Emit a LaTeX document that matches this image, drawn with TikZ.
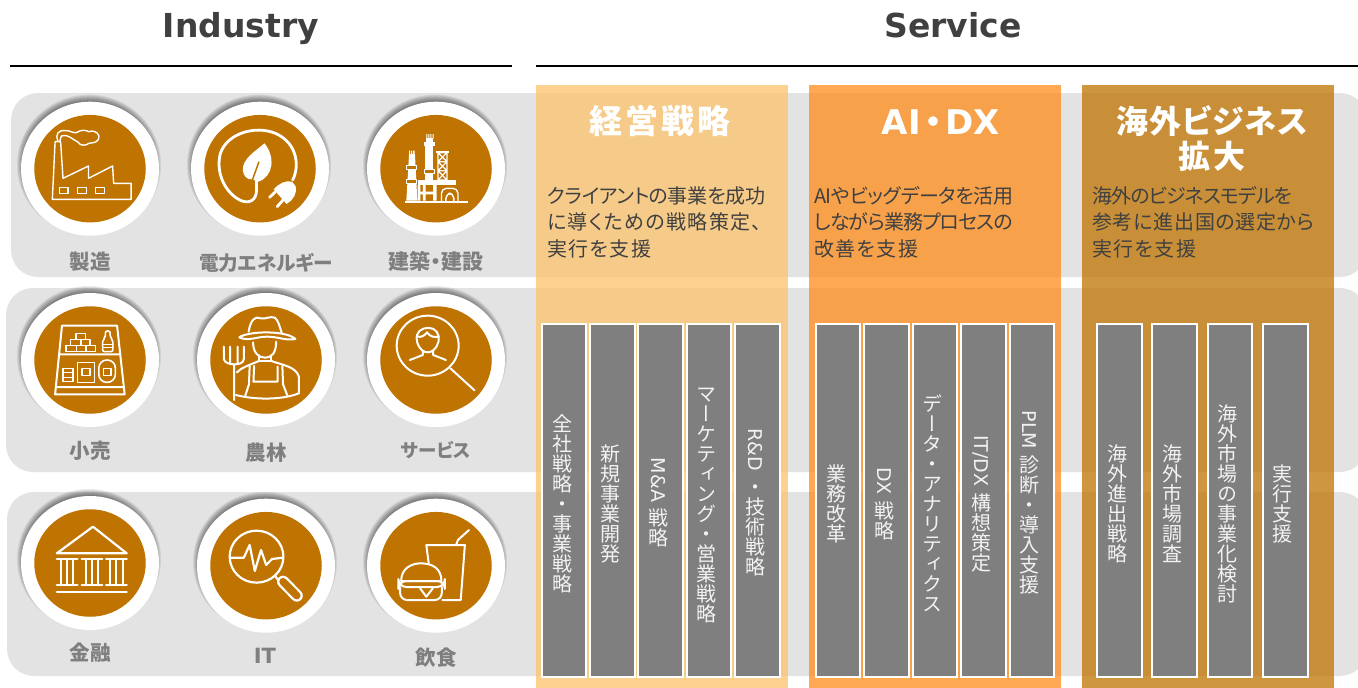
\documentclass[tikz,border=0pt]{standalone}
\usepackage{fontspec}
\usepackage{graphicx}
\usetikzlibrary{shapes.geometric}
\setmainfont{DejaVu Sans}
\newfontfamily\cjk[RawFeature={+palt}]{Noto Sans CJK JP}
\newfontfamily\cjkv[RawFeature={+vert}]{Noto Sans CJK JP}
\definecolor{ochre}{HTML}{BF7300}
\definecolor{bandgrey}{HTML}{E3E3E3}
\definecolor{barg}{HTML}{7F7F7F}
\definecolor{pa}{HTML}{FDC36C}
\definecolor{pb}{HTML}{FF8C18}
\definecolor{pc}{HTML}{BF7300}
\definecolor{darktx}{HTML}{404040}
\makeatletter
\newcommand\VCH[1]{\vbox to 20pt{\kern17.6pt\hbox to 20pt{\hss\smash{\cjkv\fontsize{20pt}{20pt}\selectfont #1}\hss}\vss}}
\newcommand\VT[1]{\@tfor\vch:=#1\do{\VCH{\vch}}}
\newcommand\VL[1]{\hbox to 20pt{\hss\rotatebox[origin=c]{-90}{\fontsize{19pt}{19pt}\selectfont #1}\hss}\kern6pt\relax}
\newcommand\VBOX[1]{\vbox{\offinterlineskip #1}}
\newcommand\LS[1]{\addfontfeature{LetterSpace=#1}}
\makeatother
\tikzset{
  band/.style={fill=bandgrey,draw=none,rounded corners=27pt},
  panel/.style={draw=none,opacity=.75},
  barbox/.style={rectangle,draw=white,line width=2pt,fill=barg,minimum width=44.5pt,minimum height=353pt,inner sep=0pt},
  bartext/.style={text=white!95!black,inner sep=0pt},
  whitedisc/.style={ellipse,fill=white,minimum width=138pt,minimum height=134pt,inner sep=0pt},
  ochredisc/.style={ellipse,fill=ochre,minimum width=111.5pt,minimum height=107.5pt,inner sep=0pt},
  lab/.style={text=barg,font=\cjk\bfseries\fontsize{20.5pt}{22pt}\selectfont,inner sep=0pt},
  head/.style={text=darktx,font=\bfseries\fontsize{33pt}{36pt}\selectfont,inner sep=0pt,anchor=base},
  ptitle/.style={text=white,font=\cjk\bfseries\fontsize{32pt}{34pt}\selectfont,inner sep=0pt},
  pbody/.style={text=darktx,font=\cjk\fontsize{20pt}{22pt}\selectfont,inner sep=0pt,anchor=west},
  ic/.style={draw=white,line width=2pt,line join=round,line cap=round},
  headrule/.style={draw=black,line width=2pt},
}
\newcommand\Bub[3]{%
  \foreach \r in {-4,...,3}{\fill[black,opacity=.08] (#2-1,#3-4) circle [x radius=69pt+\r pt,y radius=67pt+\r pt];}
  \node[whitedisc] (w#1) at (#2,#3) {};
  \node[ochredisc] (o#1) at (#2,#3) {};
}
\begin{document}
\begin{tikzpicture}[x=1pt,y=-1pt]
\useasboundingbox (0,0) rectangle (1358,688);
\clip (0,0) rectangle (1358,688);
% bands
\fill[band] (11,93) rectangle (1367,277);
\fill[band] (6,288) rectangle (1367,472);
\fill[band] (7,492) rectangle (1367,676);
% headers
\node[head] (hi) at (241,37) {Industry};
\node[head] (hs) at (953,37) {Service};
\draw[headrule] (10,65.5) -- (512,65.5);
\draw[headrule] (536,65.5) -- (1358,65.5);
% circles
\Bub{a}{90}{168.7}\Bub{b}{260}{168.7}\Bub{c}{436}{168.7}
\Bub{d}{90}{360}\Bub{e}{266}{360}\Bub{f}{436}{360}
\Bub{g}{90}{563}\Bub{h}{266}{565.7}\Bub{i}{436}{565.7}
% labels
\node[lab] (l1) at (90,262) {製造};
\node[lab,font=\cjk\bfseries\fontsize{19.6pt}{22pt}\selectfont] (l2) at (266,263) {電力エネルギー};
\node[lab,font=\cjk\bfseries\fontsize{21pt}{22pt}\selectfont] (l3) at (436,261) {建築・建設};
\node[lab] (l4) at (90,451) {小売};
\node[lab] (l5) at (266,453) {農林};
\node[lab,font=\cjk\bfseries\fontsize{18.5pt}{22pt}\selectfont] (l6) at (436,450) {サービス};
\node[lab] (l7) at (90,653) {金融};
\node[lab,font=\bfseries\fontsize{21pt}{22pt}\selectfont] (l8) at (265,656) {IT};
\node[lab] (l9) at (436,658) {飲食};
% icon: factory
\begin{scope}[shift={(0,80)},xscale=1/2.904,yscale=1/3]
\draw[ic,line width=1.4pt] (152,358) -- (160,185) -- (176,185) -- (183,295) -- (257,258) -- (257,295) -- (327,258) -- (330,310) -- (381,310) -- (381,358) -- cycle;
\draw[ic,line width=1.4pt] (173,322) rectangle (198,341) (225,322) rectangle (252,341) (278,322) rectangle (303,341);
\draw[ic,line width=1.4pt] (168,183) .. controls (160,160) and (170,150) .. (190,152) .. controls (200,150) and (212,160) .. (222,158) .. controls (235,148) and (250,150) .. (258,155) .. controls (280,148) and (292,165) .. (286,178) .. controls (280,190) and (265,188) .. (258,190) .. controls (250,198) and (232,198) .. (226,186) .. controls (210,178) and (195,160) .. (178,168) -- (174,182);
% icon: leaf and plug
\draw[ic,line width=2.8pt] (850,300) .. controls (870,260) and (865,190) .. (800,160) .. controls (740,135) and (660,160) .. (640,220) .. controls (625,280) and (655,340) .. (700,362) .. controls (725,372) and (745,360) .. (745,330) -- (745,300);
\fill[white] (768,190) .. controls (740,215) and (705,235) .. (705,270) .. controls (707,290) and (720,300) .. (732,298) -- (750,305) .. controls (795,290) and (800,230) .. (768,190) -- cycle;
\draw[ochre,line width=1.5pt] (752,245) -- (733,300);
\fill[white] (795,328) -- (832,372) .. controls (850,362) and (865,340) .. (858,318) -- (848,305) .. controls (830,300) and (810,310) .. (795,328) -- cycle;
\draw[ic,line width=2.8pt] (800,335) -- (783,352) (822,360) -- (805,380);
% icon: plant
\fill[white] (1176,362) rectangle (1358,369);
\fill[white] (1180,362) -- (1188,222) -- (1205,222) -- (1212,362) -- cycle;
\fill[white] (1188,212) rectangle (1191,222) (1194,212) rectangle (1197,222) (1200,212) rectangle (1204,222);
\draw[ic,line width=.9pt,fill=ochre] (1180,257) rectangle (1210,267) (1180,298) rectangle (1210,310);
\fill[white] (1235,195) rectangle (1258,302);
\fill[white] (1232,185) rectangle (1262,198);
\fill[white] (1238,162) rectangle (1241,176) (1244,162) rectangle (1247,176) (1250,162) rectangle (1253,176) (1256,162) rectangle (1259,176);
\fill[white] (1236,174) rectangle (1258,186);
\draw[ic,line width=.9pt,fill=ochre] (1233,268) rectangle (1262,280);
\fill[white] (1213,300) rectangle (1324,315);
\fill[white] (1213,315) rectangle (1221,362) (1228,315) rectangle (1236,362) (1258,315) rectangle (1268,362) (1213,335) rectangle (1268,343);
\draw[ic,line width=1.4pt,rounded corners=5pt] (1282,362) -- (1282,325) -- (1330,325) -- (1330,362) (1295,362) -- (1295,340) -- (1318,340) -- (1318,362);
\draw[ic,line width=1.2pt] (1272,218) rectangle (1298,300) (1272,245) -- (1298,245) (1272,272) -- (1298,272) (1272,218) -- (1298,245) (1298,218) -- (1272,245) (1272,245) -- (1298,272) (1298,245) -- (1272,272) (1272,272) -- (1298,300) (1298,272) -- (1272,300);
\fill[white] (1267,212) rectangle (1303,218);
\end{scope}
% icon: retail
\begin{scope}[shift={(0,285)},xscale=1/2.904,yscale=1/3]
\draw[ic] (180,122) -- (340,122) -- (362,328) -- (160,328) -- cycle (175,208) -- (345,208) (165,306) -- (358,306);
\draw[ic,line width=1.6pt] (220,146) rectangle (248,164) (205,164) rectangle (235,182) (235,164) rectangle (262,182) (192,182) rectangle (222,200) (222,182) rectangle (250,200) (250,182) rectangle (277,200);
\draw[ic,line width=1.6pt,rounded corners=2pt] (298,200) -- (298,165) -- (306,158) -- (306,138) -- (320,138) -- (320,158) -- (328,165) -- (328,200) -- cycle;
\draw[ic,line width=1.6pt] (298,178) -- (328,178) (298,188) -- (328,188);
\draw[ic,line width=1.6pt] (183,250) rectangle (212,290) (183,263) -- (212,263) (183,277) -- (212,277);
\draw[ic,line width=1.6pt] (225,233) rectangle (275,292) (238,250) rectangle (262,272);
\draw[ic,line width=1.6pt,rounded corners=8pt] (287,292) -- (287,225) -- (335,225) -- (335,292) -- cycle;
\draw[ic,line width=1.6pt] (300,250) rectangle (322,272);
% icon: farmer
\draw[ic] (695,157) .. controls (720,138) and (830,135) .. (858,162) .. controls (830,168) and (810,155) .. (775,155) .. controls (745,155) and (720,170) .. (695,157) -- cycle;
\draw[ic] (722,140) .. controls (728,105) and (740,92) .. (757,100) .. controls (770,104) and (785,92) .. (798,98) .. controls (808,105) and (812,125) .. (818,143);
\draw[ic] (735,172) .. controls (735,205) and (752,218) .. (770,218) .. controls (788,218) and (802,205) .. (802,170);
\draw[ic] (752,215) -- (752,228) -- (788,228) -- (788,215);
\draw[ic] (688,262) .. controls (700,248) and (725,240) .. (752,228) (788,228) .. controls (820,240) and (860,245) .. (868,275) -- (868,325) .. controls (820,345) and (740,345) .. (685,330);
\draw[ic] (725,243) -- (723,298) (738,243) -- (736,290) -- (806,290) -- (806,245) (820,243) -- (822,298) (723,298) -- (712,333) (822,298) -- (835,333);
\draw[ic] (680,345) -- (680,238) (650,185) -- (650,222) .. controls (652,235) and (670,238) .. (680,238) .. controls (692,238) and (708,235) .. (708,222) -- (708,185) (668,185) -- (668,236) (690,185) -- (690,236);
% icon: person search
\draw[ic] (1242,182) circle (90);
\draw[ic] (1308,250) -- (1378,316);
\draw[ic] (1226,196) .. controls (1208,180) and (1205,150) .. (1218,138) .. controls (1232,125) and (1258,125) .. (1268,140) .. controls (1280,155) and (1275,182) .. (1258,196) .. controls (1248,204) and (1236,204) .. (1226,196) -- cycle;
\draw[ic] (1212,155) .. controls (1225,158) and (1235,150) .. (1240,142) .. controls (1248,155) and (1262,158) .. (1274,155);
\draw[ic] (1190,225) -- (1228,210) -- (1228,198) (1295,225) -- (1258,210) -- (1258,198);
\end{scope}
% icon: bank
\begin{scope}[shift={(0,485)},xscale=1/2.904,yscale=1/3]
\draw[ic,line width=2.2pt] (165,205) -- (270,125) -- (368,205) -- cycle;
\draw[ic,line width=2.2pt] (165,222) -- (225,222) (237,222) -- (297,222) (308,222) -- (368,222) (165,301) -- (225,301) (237,301) -- (297,301) (308,301) -- (368,301) (165,320) -- (368,320);
\draw[ic,line width=2pt] (177,222) -- (177,301) (195,222) -- (195,301) (213,222) -- (213,301) (249,222) -- (249,301) (267,222) -- (267,301) (285,222) -- (285,301) (320,222) -- (320,301) (338,222) -- (338,301) (356,222) -- (356,301);
% icon: pulse search
\draw[ic,line width=2.2pt] (745,215) circle (78);
\draw[ic,line width=2.2pt] (670,218) -- (708,218) -- (725,180) -- (740,258) -- (758,195) -- (773,240) -- (790,222) -- (822,218);
\draw[ic,line width=2.2pt] (800,275) -- (812,290);
\draw[white,line width=12pt,line cap=round] (822,290) -- (862,332);
\draw[ochre,line width=7.5pt,line cap=round] (822,290) -- (862,332);
% icon: burger and drink
\draw[ic] (1245,235) -- (1238,180) -- (1350,180) -- (1338,345) -- (1285,345);
\draw[ic] (1325,178) -- (1330,165) -- (1362,135);
\draw[ic] (1165,288) .. controls (1165,250) and (1195,235) .. (1222,235) .. controls (1255,235) and (1282,250) .. (1282,288) -- cycle;
\draw[ic,rounded corners=8pt] (1157,288) rectangle (1292,306);
\draw[ic,rounded corners=7pt] (1162,306) -- (1162,345) -- (1283,345) -- (1283,306);
\draw[ic] (1220,310) -- (1238,335) -- (1257,310);
\end{scope}
% panels
\fill[panel,pa] (536,85) rectangle (788,688);
\fill[panel,pb] (809,85) rectangle (1061,688);
\fill[panel,pc] (1082,85) rectangle (1334,688);
% panel titles
\node[ptitle,font=\cjk\bfseries\fontsize{33pt}{34pt}\selectfont\LS{10}] (t1) at (660,121) {経営戦略};
\node[ptitle,font=\bfseries\fontsize{34pt}{34pt}\selectfont] (t2) at (941,122) {AI\kern4pt{\cjk ・}\kern4pt DX};
\node[ptitle,font=\cjk\bfseries\fontsize{32pt}{34pt}\selectfont\LS{3}] (t3a) at (1212,121) {海外ビジネス};
\node[ptitle,font=\cjk\bfseries\fontsize{32pt}{34pt}\selectfont\LS{7}] (t3b) at (1212,156) {拡大};
% panel bodies
\node[pbody,font=\cjk\fontsize{20pt}{22pt}\selectfont\LS{-1.7}] (a1) at (547,196) {クライアントの事業を成功};
\node[pbody,font=\cjk\fontsize{20pt}{22pt}\selectfont\LS{6.8}] (a2) at (547,222) {に導くための戦略策定、};
\node[pbody,font=\cjk\fontsize{20pt}{22pt}\selectfont\LS{7}] (a3) at (547,249) {実行を支援};
\node[pbody,font=\cjk\fontsize{20pt}{22pt}\selectfont\LS{-2}] (b1) at (814,196) {AIやビッグデータを活用};
\node[pbody,font=\cjk\fontsize{20pt}{22pt}\selectfont\LS{-4.5}] (b2) at (814,222) {しながら業務プロセスの};
\node[pbody,font=\cjk\fontsize{20pt}{22pt}\selectfont\LS{7}] (b3) at (814,249) {改善を支援};
\node[pbody,font=\cjk\fontsize{20pt}{22pt}\selectfont\LS{-4.5}] (c1) at (1092,196) {海外のビジネスモデルを};
\node[pbody,font=\cjk\fontsize{20pt}{22pt}\selectfont\LS{3.6}] (c2) at (1092,222) {参考に進出国の選定から};
\node[pbody,font=\cjk\fontsize{20pt}{22pt}\selectfont\LS{7}] (c3) at (1092,249) {実行を支援};
% bars
\foreach \n/\x in {p1/564,p2/612.5,p3/660.5,p4/709,p5/757.5,q1/838,q2/886.5,q3/935,q4/983.5,q5/1032,r1/1119.5,r2/1174.5,r3/1230,r4/1285.5}
  \node[barbox] (\n) at (\x,500.5) {};
\node[bartext] (pt1) at (562,504) {\VBOX{\VT{全社戦略・事業戦略}}};
\node[bartext] (pt2) at (610,504) {\VBOX{\VT{新規事業開発}}};
\node[bartext] (pt3) at (658,503) {\VBOX{\VL{M\&A}\VT{戦略}}};
\node[bartext] (pt4) at (706,504) {\VBOX{\VT{マーケティング・営業戦略}}};
\node[bartext] (pt5) at (755,503) {\VBOX{\VL{R\&D}\VT{・技術戦略}}};
\node[bartext] (qt1) at (836,504) {\VBOX{\VT{業務改革}}};
\node[bartext] (qt2) at (884,504) {\VBOX{\VL{DX}\VT{戦略}}};
\node[bartext] (qt3) at (932,504) {\VBOX{\VT{データ・アナリティクス}}};
\node[bartext] (qt4) at (981,504) {\VBOX{\VL{IT/DX}\VT{構想策定}}};
\node[bartext] (qt5) at (1029,503) {\VBOX{\VL{PLM}\VT{診断・導入支援}}};
\node[bartext] (rt1) at (1117,504) {\VBOX{\VT{海外進出戦略}}};
\node[bartext] (rt2) at (1172,504) {\VBOX{\VT{海外市場調査}}};
\node[bartext] (rt3) at (1227,504) {\VBOX{\VT{海外市場の事業化検討}}};
\node[bartext] (rt4) at (1282,504) {\VBOX{\VT{実行支援}}};
\end{tikzpicture}
\end{document}
